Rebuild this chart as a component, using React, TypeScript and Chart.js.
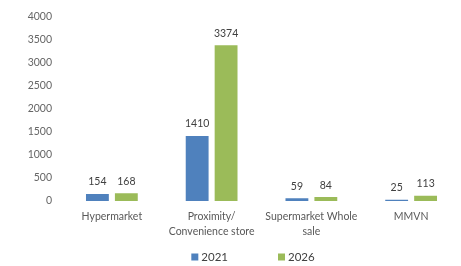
import React, { useEffect, useRef } from "react";
import { Chart, registerables } from "chart.js";

Chart.register(...registerables);

const categories: (string | string[])[] = [
  "Hypermarket",
  ["Proximity/", "Convenience store"],
  ["Supermarket Whole", "sale"],
  "MMVN",
];
const seriesNames = ["2021", "2026"];
const values2021 = [154, 1410, 59, 25];
const values2026 = [168, 3374, 84, 113];
const yTicks = [0, 500, 1000, 1500, 2000, 2500, 3000, 3500, 4000];

const FONT = "Lato, 'Liberation Sans', sans-serif";
const COLORS = ["#4F81BD", "#9BBB59"];

const valueLabels = {
  id: "valueLabels",
  afterDatasetsDraw(chart: any) {
    const ctx = chart.ctx;
    ctx.save();
    ctx.font = `10.5px ${FONT}`;
    ctx.fillStyle = "#404040";
    ctx.textAlign = "center";
    ctx.textBaseline = "middle";
    chart.data.datasets.forEach((ds: any, i: number) => {
      const meta = chart.getDatasetMeta(i);
      meta.data.forEach((bar: any, j: number) => {
        ctx.fillText(String(ds.data[j]), bar.x, bar.y - 12);
      });
    });
    ctx.restore();
  },
};

const customLegend = {
  id: "customLegend",
  afterDraw(chart: any) {
    const ctx = chart.ctx;
    ctx.save();
    ctx.font = `11.5px ${FONT}`;
    ctx.textBaseline = "middle";
    ctx.textAlign = "left";
    const y = 257;
    const box = 7;
    const gap = 3;
    const spacing = 50;
    const items = chart.data.datasets.map((ds: any) => ({
      label: ds.label,
      color: ds.backgroundColor,
      w: box + gap + ctx.measureText(ds.label).width,
    }));
    const total = items.reduce((s: number, it: any) => s + it.w, 0) + spacing * (items.length - 1);
    let x = 253 - total / 2;
    items.forEach((it: any) => {
      ctx.fillStyle = it.color;
      ctx.fillRect(x, y - box / 2, box, box);
      ctx.fillStyle = "#404040";
      ctx.fillText(it.label, x + box + gap, y + 0.5);
      x += it.w + spacing;
    });
    ctx.restore();
  },
};

export default function App() {
  const ref = useRef<HTMLCanvasElement>(null);
  useEffect(() => {
    document.body.style.margin = "0";
    const chart = new Chart(ref.current!, {
      type: "bar",
      data: {
        labels: categories,
        datasets: [
          { label: seriesNames[0], data: values2021, backgroundColor: COLORS[0] },
          { label: seriesNames[1], data: values2026, backgroundColor: COLORS[1] },
        ],
      },
      options: {
        animation: false,
        responsive: false,
        maintainAspectRatio: false,
        layout: { padding: { top: 9, right: 0, bottom: 21, left: 0 } },
        datasets: {
          bar: { categoryPercentage: 0.58, barPercentage: 0.79 },
        } as any,
        plugins: {
          legend: { display: false },
          tooltip: { enabled: false },
        },
        scales: {
          x: {
            grid: { display: false, drawTicks: false },
            border: { display: false },
            ticks: {
              color: "#595959",
              font: { family: FONT, size: 10.5, lineHeight: 1.35 },
              padding: 9,
              maxRotation: 0,
              autoSkip: false,
            },
            afterFit(scale: any) {
              scale.height = 44;
            },
          },
          y: {
            min: 0,
            max: 4000,
            grid: { display: false, drawTicks: false },
            border: { display: false },
            afterBuildTicks(scale: any) {
              scale.ticks = yTicks.map((v) => ({ value: v }));
            },
            ticks: {
              color: "#666666",
              font: { family: FONT, size: 10.5 },
              padding: 10,
              callback: (v: any) => String(v),
            },
            afterFit(scale: any) {
              scale.width = 62;
            },
          },
        },
      },
      plugins: [valueLabels, customLegend],
    });
    return () => chart.destroy();
  }, []);
  return <canvas ref={ref} width={461} height={266} style={{ display: "block" }} />;
}
